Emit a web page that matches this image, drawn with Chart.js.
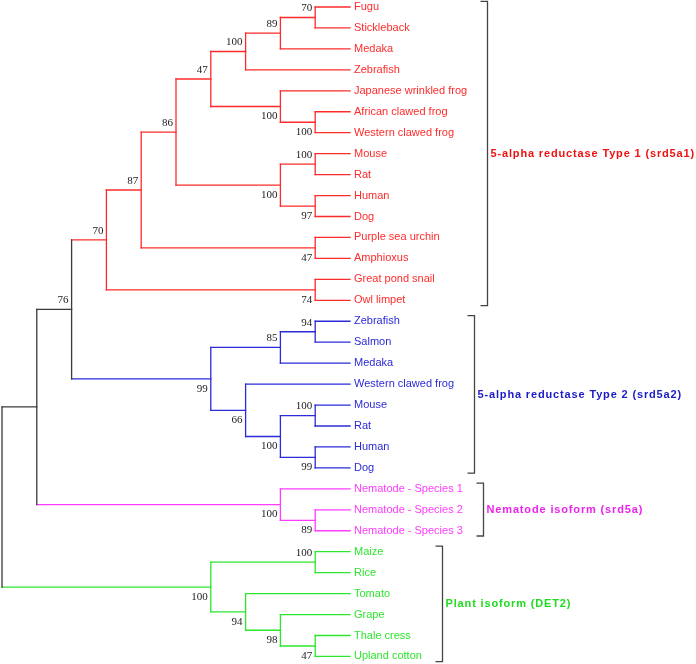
<!DOCTYPE html>
<html>
<head>
<meta charset="utf-8">
<script src="https://cdn.jsdelivr.net/npm/chart.js@4.4.1/dist/chart.umd.min.js"></script>
<style>
  html, body { margin: 0; padding: 0; background: #fff; }
  #wrap { width: 696px; height: 664px; }
</style>
</head>
<body>
<div id="wrap"><canvas id="tree" width="696" height="664"></canvas></div>
<script>
// clades, top to bottom
const cladeNames = ["5-alpha reductase Type 1 (srd5a1)", "5-alpha reductase Type 2 (srd5a2)", "Nematode isoform (srd5a)", "Plant isoform (DET2)"];
const cladeColors = ["#ff2b2b", "#2b2bd8", "#ff3cff", "#2ee62e"];
const cladeTextColors = ["#ee1111", "#1a1ac8", "#ee22ee", "#1edc1e"];
const stemColor = "#3a3a3a";

// subtrees written as [upper child, lower child, bootstrap]
const type1Tree = [[[[[[["Fugu", "Stickleback", 70], "Medaka", 89], "Zebrafish", 100],
  ["Japanese wrinkled frog", ["African clawed frog", "Western clawed frog", 100], 100], 47],
  [["Mouse", "Rat", 100], ["Human", "Dog", 97], 100], 86],
  ["Purple sea urchin", "Amphioxus", 47], 87],
  ["Great pond snail", "Owl limpet", 74], 70];
const type2Tree = [[["Zebrafish", "Salmon", 94], "Medaka", 85],
  ["Western clawed frog", [["Mouse", "Rat", 100], ["Human", "Dog", 99], 100], 66], 99];
const nematodeTree = ["Nematode - Species 1", ["Nematode - Species 2", "Nematode - Species 3", 89], 100];
const plantTree = [["Maize", "Rice", 100], ["Tomato", ["Grape", ["Thale cress", "Upland cotton", 47], 98], 94], 100];
const cladeTrees = [type1Tree, type2Tree, nematodeTree, plantTree];

// how the clades join (numbers = clade index)
const backbone = [[[0, 1, 76], 2, null], 3, null];

function build(t, clade) {
  if (typeof t === 'number') return build(cladeTrees[t], t);
  if (typeof t === 'string') return { name: t, clade: clade, kids: [] };
  return { clade: clade, support: t[2], kids: [build(t[0], clade), build(t[1], clade)] };
}
const root = build(backbone, -1);

const leaves = [];
function layout(n) {
  if (!n.kids.length) { n.y = leaves.length; n.h = 0; leaves.push(n); return; }
  n.kids.forEach(layout);
  n.y = (n.kids[0].y + n.kids[1].y) / 2;
  n.h = Math.max(n.kids[0].h, n.kids[1].h) + 1;
}
layout(root);
function place(n) { n.x = root.h - n.h; n.kids.forEach(place); }
place(root);

const colorOf = n => n.clade >= 0 ? cladeColors[n.clade] : stemColor;

const datasets = [];
const supports = [];
function seg(x1, y1, x2, y2, color) {
  datasets.push({
    data: [{ x: x1, y: y1 }, { x: x2, y: y2 }],
    showLine: true, borderColor: color, borderWidth: 1.3,
    borderCapStyle: 'square', pointRadius: 0, clip: false
  });
}
function walk(n) {
  if (!n.kids.length) return;
  seg(n.x, n.kids[0].y, n.x, n.kids[1].y, colorOf(n));
  n.kids.forEach((k, i) => {
    seg(n.x, k.y, k.x, k.y, colorOf(k));
    if (k.kids.length && k.support != null) supports.push({ x: k.x, y: k.y, v: k.support, above: i === 0 });
    walk(k);
  });
}
walk(root);

const xStep = 34.8, yStep = 20.95;
const W = 696, H = 664;

const treeLabels = {
  id: 'treeLabels',
  afterDatasetsDraw(chart) {
    const ctx = chart.ctx, xs = chart.scales.x, ys = chart.scales.y;
    ctx.save();
    // bootstrap values
    ctx.font = '11px "Liberation Serif", serif';
    ctx.fillStyle = '#222';
    ctx.textAlign = 'right';
    ctx.textBaseline = 'middle';
    supports.forEach(s => {
      const px = xs.getPixelForValue(s.x), py = ys.getPixelForValue(s.y);
      ctx.fillText(String(s.v), px - 3, py + (s.above ? -9 : 10));
    });
    // leaf names
    ctx.font = '11px "Liberation Sans", Arial, sans-serif';
    ctx.textAlign = 'left';
    const lx = xs.getPixelForValue(root.h) + 4;
    leaves.forEach(l => {
      ctx.fillStyle = cladeColors[l.clade];
      ctx.fillText(l.name, lx, ys.getPixelForValue(l.y));
    });
    // brackets and clade names
    cladeNames.forEach((name, c) => {
      const mine = leaves.filter(l => l.clade === c);
      const first = mine[0].y, last = mine[mine.length - 1].y;
      ctx.font = '11px "Liberation Sans", Arial, sans-serif';
      const wmax = Math.max(...mine.map(l => ctx.measureText(l.name).width));
      const bx = Math.round(lx + wmax + 20) + 0.5;
      const top = ys.getPixelForValue(first - 0.27), bot = ys.getPixelForValue(last + 0.25);
      ctx.strokeStyle = '#444';
      ctx.lineWidth = 1.3;
      ctx.beginPath();
      ctx.moveTo(bx - 7, top); ctx.lineTo(bx, top); ctx.lineTo(bx, bot); ctx.lineTo(bx - 7, bot);
      ctx.stroke();
      ctx.font = 'bold 11px "Liberation Sans", Arial, sans-serif';
      ctx.letterSpacing = '0.85px';
      ctx.fillStyle = cladeTextColors[c];
      ctx.fillText(name, bx + 3, ys.getPixelForValue((first + last) / 2));
      ctx.letterSpacing = '0px';
    });
    ctx.restore();
  }
};

new Chart(document.getElementById('tree'), {
  type: 'scatter',
  data: { datasets: datasets },
  options: {
    responsive: false,
    animation: false,
    layout: { padding: 0 },
    plugins: { legend: { display: false }, tooltip: { enabled: false } },
    scales: {
      x: { type: 'linear', display: false, min: -2 / xStep, max: (W - 2) / xStep },
      y: { type: 'linear', display: false, reverse: true, min: -7 / yStep, max: (H - 7) / yStep }
    }
  },
  plugins: [treeLabels]
});
</script>
</body>
</html>
